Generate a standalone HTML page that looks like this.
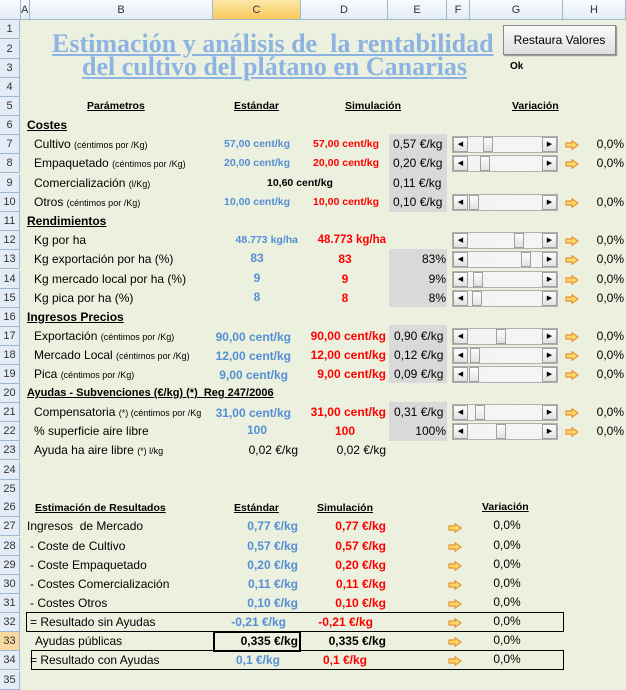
<!DOCTYPE html>
<html><head><meta charset="utf-8">
<style>
*{margin:0;padding:0;box-sizing:border-box}
body{width:626px;height:684px;overflow:hidden;background:#ebf1de;font-family:"Liberation Sans",sans-serif;font-size:10.5px;color:#000;position:relative}
.a{position:absolute;white-space:nowrap;line-height:19px;height:19px}
.r{text-align:right}.c{text-align:center}
.b{font-weight:bold}.u{text-decoration:underline}
.bl{color:#558ed5;font-weight:bold}.rd{color:#ff0000;font-weight:bold}
.sm{font-size:9px}
.rh{position:absolute;left:0;width:20px;height:19px;line-height:19px;text-align:center;background:#e4ecf7;border-bottom:1px solid #9eb6ce;border-right:1px solid #9eb6ce;font-size:11px;color:#333}
.ch{position:absolute;top:0;height:20px;line-height:20px;text-align:center;background:linear-gradient(#f9fbfd,#e4ecf7);border-right:1px solid #9eb6ce;border-bottom:1px solid #9eb6ce;font-size:11px;color:#333}
.gr{position:absolute;left:389px;width:58px;background:#d9d9d9}
.sl{position:absolute;left:452px;width:106px;height:17px;border:1px solid #b0b0b0;background:#f7f7f7 repeating-linear-gradient(45deg,#eee 0 1px,#fafafa 1px 2px)}
.sl .lb,.sl .rb,.sl .th{position:absolute;top:0;height:15px;background:linear-gradient(#fdfdfd,#e2e2e2);border:1px solid #a0a0a0;font-size:7px;line-height:13px;text-align:center}
.sl .lb{left:0;width:15px}.sl .rb{right:0;width:15px}.sl .th{width:10px}
.ar{position:absolute;width:14px;height:10px}
.t{font-family:"Liberation Serif",serif;font-weight:bold;color:#8db3e2;font-size:26px;line-height:26px;text-decoration:underline;position:absolute;white-space:nowrap}
.L{font-size:12px}
</style></head><body>
<div class="ch" style="left:0;width:21px"></div>
<div class="ch" style="left:21px;width:9px;text-align:left">A</div>
<div class="ch" style="left:30px;width:183px">B</div>
<div class="ch" style="left:213px;width:88px;background:linear-gradient(#fde7a8,#f8c95a)">C</div>
<div class="ch" style="left:301px;width:87px">D</div>
<div class="ch" style="left:388px;width:59px">E</div>
<div class="ch" style="left:447px;width:23px">F</div>
<div class="ch" style="left:470px;width:93px">G</div>
<div class="ch" style="left:563px;width:63px">H</div>
<div class="rh" style="top:20px">1</div><div class="rh" style="top:40px">2</div><div class="rh" style="top:59px">3</div><div class="rh" style="top:78px">4</div><div class="rh" style="top:97px">5</div><div class="rh" style="top:116px">6</div><div class="rh" style="top:135px">7</div><div class="rh" style="top:154px">8</div><div class="rh" style="top:174px">9</div><div class="rh" style="top:193px">10</div><div class="rh" style="top:212px">11</div><div class="rh" style="top:231px">12</div><div class="rh" style="top:250px">13</div><div class="rh" style="top:270px">14</div><div class="rh" style="top:289px">15</div><div class="rh" style="top:308px">16</div><div class="rh" style="top:327px">17</div><div class="rh" style="top:346px">18</div><div class="rh" style="top:365px">19</div><div class="rh" style="top:384px">20</div><div class="rh" style="top:403px">21</div><div class="rh" style="top:422px">22</div><div class="rh" style="top:441px">23</div><div class="rh" style="top:461px">24</div><div class="rh" style="top:480px">25</div><div class="rh" style="top:498px">26</div><div class="rh" style="top:517px">27</div><div class="rh" style="top:537px">28</div><div class="rh" style="top:556px">29</div><div class="rh" style="top:575px">30</div><div class="rh" style="top:594px">31</div><div class="rh" style="top:613px">32</div><div class="rh" style="top:632px;background:#f9d99f">33</div><div class="rh" style="top:651px">34</div><div class="rh" style="top:671px">35</div>

<div class="t" style="left:52px;top:31px">Estimación y análisis de&nbsp; la rentabilidad</div>
<div class="t" style="left:82px;top:54px">del cultivo del plátano en Canarias</div>
<div style="position:absolute;left:503px;top:25px;width:113px;height:30px;border:1px solid #8a8a8a;background:linear-gradient(#fafafa,#e0e0e0);box-shadow:1px 1px 1px #888;font-size:12px;line-height:28px;text-align:center">Restaura Valores</div>
<div class="a b" style="left:510px;top:57px;font-size:10px">Ok</div>

<div class="gr" style="top:134px;height:78px"></div>
<div class="gr" style="top:249px;height:58px"></div>
<div class="gr" style="top:325px;height:58px"></div>
<div class="gr" style="top:402px;height:39px"></div>

<div class="a b u" style="left:87px;top:97px">Parámetros</div>
<div class="a b u" style="left:234px;top:97px">Estándar</div>
<div class="a b u" style="left:345px;top:97px">Simulación</div>
<div class="a b u" style="left:512px;top:97px">Variación</div>
<div class="a b u L" style="left:27px;top:116px">Costes</div>
<div class="a b u L" style="left:27px;top:212px">Rendimientos</div>
<div class="a b u L" style="left:27px;top:308px">Ingresos Precios</div>
<div class="a b u" style="left:27px;top:384px;font-size:11px">Ayudas - Subvenciones (€/kg) (*)&nbsp; Reg 247/2006</div>

<div class="a L" style="left:34px;top:135px">Cultivo <span class="sm">(céntimos por /Kg)</span></div>
<div class="a bl r" style="left:213px;width:77px;top:135px">57,00 cent/kg</div>
<div class="a rd r" style="left:300px;width:79px;top:135px">57,00 cent/kg</div>
<div class="a L" style="left:393px;top:135px">0,57 €/kg</div>
<div class="a L" style="left:34px;top:154px">Empaquetado <span class="sm">(céntimos por /Kg)</span></div>
<div class="a bl r" style="left:213px;width:77px;top:154px">20,00 cent/kg</div>
<div class="a rd r" style="left:300px;width:79px;top:154px">20,00 cent/kg</div>
<div class="a L" style="left:393px;top:154px">0,20 €/kg</div>
<div class="a L" style="left:34px;top:174px">Comercialización <span class="sm">(l/Kg)</span></div>
<div class="a b" style="left:267px;top:174px">10,60 cent/kg</div>
<div class="a L" style="left:393px;top:174px">0,11 €/kg</div>
<div class="a L" style="left:34px;top:193px">Otros <span class="sm">(céntimos por /Kg)</span></div>
<div class="a bl r" style="left:213px;width:77px;top:193px">10,00 cent/kg</div>
<div class="a rd r" style="left:300px;width:79px;top:193px">10,00 cent/kg</div>
<div class="a L" style="left:393px;top:193px">0,10 €/kg</div>

<div class="a L" style="left:34px;top:231px">Kg por ha</div>
<div class="a bl r" style="left:213px;width:85px;top:231px">48.773 kg/ha</div>
<div class="a rd r" style="left:300px;width:86px;top:231px;font-size:11.5px">48.773 kg/ha</div>
<div class="a L" style="left:34px;top:250px">Kg exportación por ha (%)</div>
<div class="a bl c L" style="left:237px;width:40px;top:249px">83</div>
<div class="a rd c L" style="left:325px;width:40px;top:250px">83</div>
<div class="a r L" style="left:389px;width:57px;top:250px">83%</div>
<div class="a L" style="left:34px;top:270px">Kg mercado local por ha (%)</div>
<div class="a bl c L" style="left:237px;width:40px;top:269px">9</div>
<div class="a rd c L" style="left:325px;width:40px;top:270px">9</div>
<div class="a r L" style="left:389px;width:57px;top:270px">9%</div>
<div class="a L" style="left:34px;top:289px">Kg pica por ha (%)</div>
<div class="a bl c L" style="left:237px;width:40px;top:288px">8</div>
<div class="a rd c L" style="left:325px;width:40px;top:289px">8</div>
<div class="a r L" style="left:389px;width:57px;top:289px">8%</div>

<div class="a L" style="left:34px;top:327px">Exportación <span class="sm">(céntimos por /Kg)</span></div>
<div class="a bl r L" style="left:213px;width:78px;top:328px">90,00 cent/kg</div>
<div class="a rd r L" style="left:300px;width:86px;top:327px">90,00 cent/kg</div>
<div class="a L" style="left:394px;top:327px">0,90 €/kg</div>
<div class="a L" style="left:34px;top:346px">Mercado Local <span class="sm">(céntimos por /Kg)</span></div>
<div class="a bl r L" style="left:213px;width:78px;top:347px">12,00 cent/kg</div>
<div class="a rd r L" style="left:300px;width:86px;top:346px">12,00 cent/kg</div>
<div class="a L" style="left:394px;top:346px">0,12 €/kg</div>
<div class="a L" style="left:34px;top:365px">Pica <span class="sm">(céntimos por /Kg)</span></div>
<div class="a bl r L" style="left:213px;width:75px;top:366px">9,00 cent/kg</div>
<div class="a rd r L" style="left:300px;width:86px;top:365px">9,00 cent/kg</div>
<div class="a L" style="left:394px;top:365px">0,09 €/kg</div>

<div class="a L" style="left:34px;top:403px">Compensatoria <span class="sm">(*) (céntimos por /Kg</span></div>
<div class="a bl r L" style="left:213px;width:78px;top:404px">31,00 cent/kg</div>
<div class="a rd r L" style="left:300px;width:86px;top:403px">31,00 cent/kg</div>
<div class="a L" style="left:394px;top:403px">0,31 €/kg</div>
<div class="a L" style="left:34px;top:422px">% superficie aire libre</div>
<div class="a bl c L" style="left:237px;width:40px;top:421px">100</div>
<div class="a rd c L" style="left:325px;width:40px;top:422px">100</div>
<div class="a r L" style="left:389px;width:57px;top:422px">100%</div>
<div class="a L" style="left:34px;top:441px">Ayuda ha aire libre <span class="sm">(*) l/kg</span></div>
<div class="a r L" style="left:213px;width:85px;top:441px">0,02 €/kg</div>
<div class="a r L" style="left:300px;width:86px;top:441px">0,02 €/kg</div>

<div class="sl" style="top:136px"><div class="lb">◀</div><div class="th" style="left:30px"></div><div class="rb">▶</div></div>
<div class="sl" style="top:155px"><div class="lb">◀</div><div class="th" style="left:27px"></div><div class="rb">▶</div></div>
<div class="sl" style="top:194px"><div class="lb">◀</div><div class="th" style="left:16px"></div><div class="rb">▶</div></div>
<div class="sl" style="top:232px"><div class="lb">◀</div><div class="th" style="left:61px"></div><div class="rb">▶</div></div>
<div class="sl" style="top:251px"><div class="lb">◀</div><div class="th" style="left:68px"></div><div class="rb">▶</div></div>
<div class="sl" style="top:271px"><div class="lb">◀</div><div class="th" style="left:20px"></div><div class="rb">▶</div></div>
<div class="sl" style="top:290px"><div class="lb">◀</div><div class="th" style="left:19px"></div><div class="rb">▶</div></div>
<div class="sl" style="top:328px"><div class="lb">◀</div><div class="th" style="left:43px"></div><div class="rb">▶</div></div>
<div class="sl" style="top:347px"><div class="lb">◀</div><div class="th" style="left:17px"></div><div class="rb">▶</div></div>
<div class="sl" style="top:366px"><div class="lb">◀</div><div class="th" style="left:16px"></div><div class="rb">▶</div></div>
<div class="sl" style="top:404px"><div class="lb">◀</div><div class="th" style="left:22px"></div><div class="rb">▶</div></div>
<div class="sl" style="top:423px"><div class="lb">◀</div><div class="th" style="left:43px"></div><div class="rb">▶</div></div>

<svg width="0" height="0" style="position:absolute"><defs><symbol id="ar" viewBox="0 0 14 10"><path d="M1 3H7V0.8L13 5L7 9.2V7H1Z" fill="#ffd966" stroke="#e69138" stroke-width="1.2"/></symbol></defs></svg>
<svg class="ar" style="left:565px;top:140px"><use href="#ar"/></svg><div class="a r L" style="left:580px;width:44px;top:135px">0,0%</div>
<svg class="ar" style="left:565px;top:159px"><use href="#ar"/></svg><div class="a r L" style="left:580px;width:44px;top:154px">0,0%</div>
<svg class="ar" style="left:565px;top:198px"><use href="#ar"/></svg><div class="a r L" style="left:580px;width:44px;top:193px">0,0%</div>
<svg class="ar" style="left:565px;top:236px"><use href="#ar"/></svg><div class="a r L" style="left:580px;width:44px;top:231px">0,0%</div>
<svg class="ar" style="left:565px;top:255px"><use href="#ar"/></svg><div class="a r L" style="left:580px;width:44px;top:250px">0,0%</div>
<svg class="ar" style="left:565px;top:275px"><use href="#ar"/></svg><div class="a r L" style="left:580px;width:44px;top:270px">0,0%</div>
<svg class="ar" style="left:565px;top:294px"><use href="#ar"/></svg><div class="a r L" style="left:580px;width:44px;top:289px">0,0%</div>
<svg class="ar" style="left:565px;top:332px"><use href="#ar"/></svg><div class="a r L" style="left:580px;width:44px;top:327px">0,0%</div>
<svg class="ar" style="left:565px;top:351px"><use href="#ar"/></svg><div class="a r L" style="left:580px;width:44px;top:346px">0,0%</div>
<svg class="ar" style="left:565px;top:370px"><use href="#ar"/></svg><div class="a r L" style="left:580px;width:44px;top:365px">0,0%</div>
<svg class="ar" style="left:565px;top:408px"><use href="#ar"/></svg><div class="a r L" style="left:580px;width:44px;top:403px">0,0%</div>
<svg class="ar" style="left:565px;top:427px"><use href="#ar"/></svg><div class="a r L" style="left:580px;width:44px;top:422px">0,0%</div>

<div class="a b u" style="left:35px;top:499px">Estimación de Resultados</div>
<div class="a b u" style="left:234px;top:499px">Estándar</div>
<div class="a b u" style="left:317px;top:499px">Simulación</div>
<div class="a b u" style="left:482px;top:498px">Variación</div>

<div style="position:absolute;left:26px;top:612px;width:538px;height:20px;border:1px solid #000"></div>
<div style="position:absolute;left:31px;top:650px;width:533px;height:20px;border:1px solid #000"></div>
<div style="position:absolute;left:213px;top:631px;width:88px;height:21px;border:2px solid #000"></div>

<div class="a L" style="left:27px;top:517px">Ingresos&nbsp; de Mercado</div>
<div class="a L" style="left:30px;top:537px"> - Coste de Cultivo</div>
<div class="a L" style="left:30px;top:556px"> - Coste Empaquetado</div>
<div class="a L" style="left:30px;top:575px"> - Costes Comercialización</div>
<div class="a L" style="left:30px;top:594px"> - Costes Otros</div>
<div class="a L" style="left:30px;top:613px">= Resultado sin Ayudas</div>
<div class="a L" style="left:35px;top:632px">Ayudas públicas</div>
<div class="a L" style="left:30px;top:651px">= Resultado con Ayudas</div>

<div class="a bl r L" style="left:213px;width:85px;top:517px">0,77 €/kg</div><div class="a rd r L" style="left:300px;width:86px;top:517px">0,77 €/kg</div>
<div class="a bl r L" style="left:213px;width:85px;top:537px">0,57 €/kg</div><div class="a rd r L" style="left:300px;width:86px;top:537px">0,57 €/kg</div>
<div class="a bl r L" style="left:213px;width:85px;top:556px">0,20 €/kg</div><div class="a rd r L" style="left:300px;width:86px;top:556px">0,20 €/kg</div>
<div class="a bl r L" style="left:213px;width:85px;top:575px">0,11 €/kg</div><div class="a rd r L" style="left:300px;width:86px;top:575px">0,11 €/kg</div>
<div class="a bl r L" style="left:213px;width:85px;top:594px">0,10 €/kg</div><div class="a rd r L" style="left:300px;width:86px;top:594px">0,10 €/kg</div>
<div class="a bl r L" style="left:213px;width:73px;top:613px">-0,21 €/kg</div><div class="a rd r L" style="left:300px;width:73px;top:613px">-0,21 €/kg</div>
<div class="a b r L" style="left:213px;width:85px;top:632px">0,335 €/kg</div><div class="a b r L" style="left:300px;width:86px;top:632px">0,335 €/kg</div>
<div class="a bl r L" style="left:213px;width:67px;top:651px">0,1 €/kg</div><div class="a rd r L" style="left:300px;width:67px;top:651px">0,1 €/kg</div>

<svg class="ar" style="left:448px;top:523px"><use href="#ar"/></svg><div class="a c L" style="left:487px;width:40px;top:516px">0,0%</div>
<svg class="ar" style="left:448px;top:542px"><use href="#ar"/></svg><div class="a c L" style="left:487px;width:40px;top:536px">0,0%</div>
<svg class="ar" style="left:448px;top:561px"><use href="#ar"/></svg><div class="a c L" style="left:487px;width:40px;top:555px">0,0%</div>
<svg class="ar" style="left:448px;top:580px"><use href="#ar"/></svg><div class="a c L" style="left:487px;width:40px;top:574px">0,0%</div>
<svg class="ar" style="left:448px;top:599px"><use href="#ar"/></svg><div class="a c L" style="left:487px;width:40px;top:593px">0,0%</div>
<svg class="ar" style="left:448px;top:618px"><use href="#ar"/></svg><div class="a c L" style="left:487px;width:40px;top:612px">0,0%</div>
<svg class="ar" style="left:448px;top:637px"><use href="#ar"/></svg><div class="a c L" style="left:487px;width:40px;top:631px">0,0%</div>
<svg class="ar" style="left:448px;top:656px"><use href="#ar"/></svg><div class="a c L" style="left:487px;width:40px;top:650px">0,0%</div>
</body></html>
